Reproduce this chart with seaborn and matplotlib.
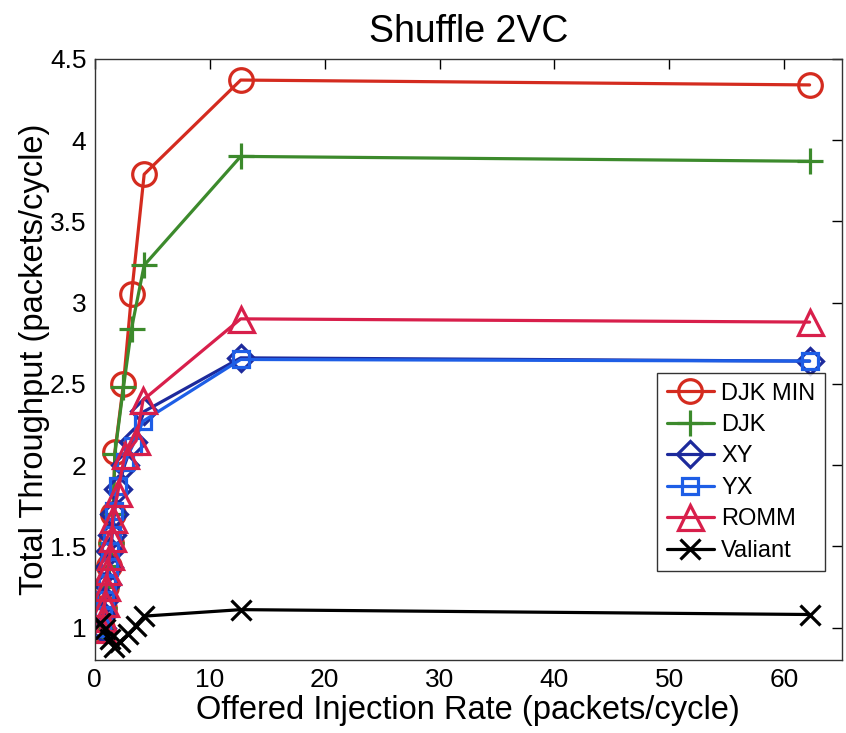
import matplotlib
matplotlib.use("Agg")
import matplotlib.pyplot as plt
import seaborn as sns
import pandas as pd

sns.set_theme(style="white")
plt.rcParams['font.family'] = ['Liberation Sans', 'DejaVu Sans']
plt.rcParams['text.color'] = 'black'
plt.rcParams['axes.labelcolor'] = 'black'

# ---- data ----
djkmin_x = [0.6, 0.8, 1.0, 1.2, 1.4, 1.6, 1.75, 2.5, 3.2, 4.3, 12.7, 62.2]
djkmin_y = [1.0, 1.12, 1.25, 1.38, 1.52, 1.7, 2.08, 2.5, 3.05, 3.79, 4.37, 4.34]

djk_x = [0.6, 0.8, 1.0, 1.2, 1.4, 1.6, 1.75, 2.5, 3.2, 4.3, 12.7, 62.2]
djk_y = [1.0, 1.12, 1.25, 1.38, 1.52, 1.7, 2.07, 2.48, 2.84, 3.23, 3.9, 3.87]

xy_x = [0.6, 0.75, 0.9, 1.05, 1.2, 1.35, 1.5, 1.7, 2.0, 2.6, 3.3, 4.3, 12.7, 62.2]
xy_y = [1.0, 1.08, 1.17, 1.27, 1.37, 1.47, 1.57, 1.7, 1.85, 2.0, 2.14, 2.33, 2.66, 2.64]

yx_x = [0.6, 0.75, 0.9, 1.05, 1.2, 1.35, 1.5, 1.7, 2.0, 2.6, 3.3, 4.2, 12.7, 62.2]
yx_y = [1.0, 1.08, 1.17, 1.27, 1.37, 1.47, 1.57, 1.72, 1.87, 2.02, 2.12, 2.27, 2.65, 2.64]

romm_x = [0.6, 0.7, 0.86, 1.0, 1.1, 1.3, 1.47, 1.56, 2.0, 2.6, 3.6, 4.2, 12.7, 62.2]
romm_y = [0.99, 1.06, 1.15, 1.25, 1.35, 1.44, 1.55, 1.67, 1.83, 2.06, 2.15, 2.4, 2.9, 2.88]

val_x = [0.5, 0.9, 1.3, 1.7, 2.2, 2.9, 3.6, 4.3, 12.7, 62.2]
val_y = [1.03, 0.99, 0.93, 0.88, 0.91, 0.96, 1.01, 1.07, 1.11, 1.08]

series = [
    ("DJK MIN", djkmin_x, djkmin_y, "#d42b1f", "o", 17),
    ("DJK", djk_x, djk_y, "#3c8a2c", "+", 19),
    ("XY", xy_x, xy_y, "#1d2a9c", "D", 13),
    ("YX", yx_x, yx_y, "#1e5ee6", "s", 12),
    ("ROMM", romm_x, romm_y, "#d81f4b", "^", 18),
    ("Valiant", val_x, val_y, "#000000", "x", 15),
]

fig = plt.figure(figsize=(8.46, 7.33), dpi=100)
ax = fig.add_axes([0.112, 0.0996, 0.883, 0.82])

for name, xs, ys, col, mk, ms in series:
    df = pd.DataFrame({"x": xs, "y": ys})
    sns.lineplot(data=df, x="x", y="y", ax=ax, color=col, marker=mk,
                 markersize=ms, markerfacecolor="none", markeredgecolor=col,
                 markeredgewidth=2.3, linewidth=2.3, sort=False,
                 estimator=None, label=name)

ax.set_xlim(0, 65)
ax.set_ylim(0.8, 4.5)
ax.set_xticks([0, 10, 20, 30, 40, 50, 60])
ax.set_yticks([1, 1.5, 2, 2.5, 3, 3.5, 4, 4.5])
ax.set_yticklabels(["1", "1.5", "2", "2.5", "3", "3.5", "4", "4.5"])
ax.tick_params(direction="in", length=7, width=1, top=True, right=True,
               labelsize=19, colors="black", pad=6)
for s in ax.spines.values():
    s.set_color("#333333")
    s.set_linewidth(1.0)

ax.set_xlabel("Offered Injection Rate (packets/cycle)", fontsize=23.5, labelpad=2)
ax.set_ylabel("Total Throughput (packets/cycle)", fontsize=23.5, labelpad=0)
ax.set_title("Shuffle 2VC", fontsize=27, pad=12)

leg = ax.legend(loc="lower right", bbox_to_anchor=(0.993, 0.128), fontsize=17,
                frameon=True, fancybox=False, edgecolor="black",
                handlelength=2.0, borderpad=0.4, labelspacing=0.4,
                handletextpad=0.3)
leg.get_frame().set_linewidth(1.0)

fig.savefig("out.png", dpi=100)
